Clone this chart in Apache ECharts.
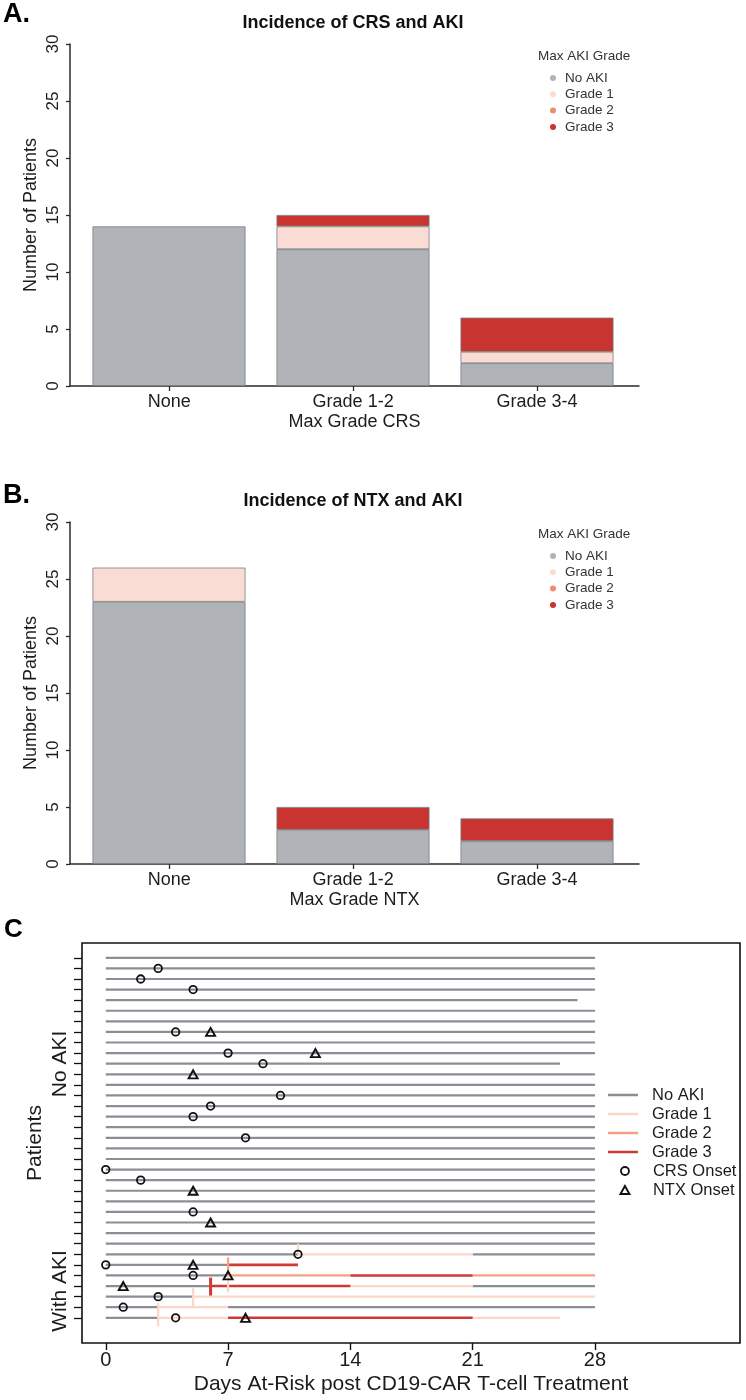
<!DOCTYPE html>
<html>
<head>
<meta charset="utf-8">
<title>CRS, NTX and AKI after CD19-CAR T-cell treatment</title>
<script src="https://cdn.jsdelivr.net/npm/echarts@6/dist/echarts.min.js"></script>
<style>
  html, body { margin: 0; padding: 0; background: #fff; }
  #chart { width: 746px; height: 1400px; }
</style>
</head>
<body>
<div id="chart"></div>
<script>
// ---- data ----
const grades = ['No AKI', 'Grade 1', 'Grade 2', 'Grade 3'];

const crsCategories = ['None', 'Grade 1-2', 'Grade 3-4'];
const crsNoAki = [14, 12, 2];
const crsGrade1 = [0, 2, 1];
const crsGrade2 = [0, 0, 0];
const crsGrade3 = [0, 1, 3];

const ntxCategories = ['None', 'Grade 1-2', 'Grade 3-4'];
const ntxNoAki = [23, 3, 2];
const ntxGrade1 = [3, 0, 0];
const ntxGrade2 = [0, 0, 0];
const ntxGrade3 = [0, 2, 2];

const dayTicks = [0, 7, 14, 21, 28];

// panel C: patients without AKI (rows 1-28, top down), last at-risk day
const noAkiEndDay = [28, 28, 28, 28, 27, 28, 28, 28, 28, 28, 26, 28, 28, 28,
                     28, 28, 28, 28, 28, 28, 28, 28, 28, 28, 28, 28, 28, 28];
// patients with AKI: [row, fromDay, toDay, grade]
const akiSegments = [
  [29, 0, 11, 0], [29, 11, 21, 1], [29, 21, 28, 0],
  [30, 0, 7, 0], [30, 7, 11, 3],
  [31, 0, 7, 0], [31, 7, 14, 2], [31, 14, 21, 3], [31, 21, 28, 2],
  [32, 0, 6, 0], [32, 6, 14, 3], [32, 14, 21, 1], [32, 21, 28, 0],
  [33, 0, 5, 0], [33, 5, 28, 1],
  [34, 0, 3, 0], [34, 3, 7, 1], [34, 7, 28, 0],
  [35, 0, 3, 0], [35, 3, 7, 1], [35, 7, 21, 3], [35, 21, 26, 1]
];
// vertical grade-change strokes: [day, fromRow, toRow, grade]
const akiSteps = [
  [11, 28, 29, 1],
  [7, 29.3, 31, 2],
  [7, 31, 32.6, 1],
  [6, 31.2, 32.9, 3],
  [5, 32.2, 34, 1],
  [3, 33.6, 35.8, 1]
];
// onset markers: [row, day]
const crsOnset = [[2, 3], [3, 2], [4, 5], [8, 4], [10, 7], [11, 9], [14, 10], [15, 6],
                  [16, 5], [18, 8], [21, 0], [22, 2], [25, 5],
                  [29, 11], [30, 0], [31, 5], [33, 3], [34, 1], [35, 4]];
const ntxOnset = [[8, 6], [10, 12], [12, 5], [23, 5], [26, 6],
                  [30, 5], [31, 7], [32, 1], [35, 8]];

// ---- styles ----
const FONT = '"Liberation Sans", Arial, Helvetica, sans-serif';
const INK = '#1c1c1c';
const AXIS = '#2a2a2a';
const barColors = ['#b0b3b8', '#f9ddd4', '#ef8d6f', '#c8342f'];
const lineColors = ['#8b8e95', '#fbd6c9', '#f2a184', '#d03a35'];
const lineWidths = [2.2, 2.2, 2.2, 2.6];

const chart = echarts.init(document.getElementById('chart'), null, { renderer: 'canvas' });

const rowCount = noAkiEndDay.length + 7;
const rowTicks = Array.from({ length: rowCount }, (_, i) => i + 1);
const noAkiRows = noAkiEndDay.map((end, i) => [i + 1, 0, end, 0]);
const allSegments = noAkiRows.concat(akiSegments);
const catIndex = crsCategories.map((_, i) => i);

// visible axes of a bar panel (value x axis so the line can run past the bars)
function barXAxis(gridIndex, cats, title) {
  return {
    gridIndex: gridIndex, type: 'value', min: -0.54, max: 2.555,
    axisLine: { show: true, onZero: false, lineStyle: { color: AXIS, width: 1.5 } },
    axisTick: { show: true, customValues: catIndex, length: 5, lineStyle: { color: AXIS, width: 1.3 } },
    axisLabel: {
      customValues: catIndex, formatter: v => cats[Math.round(v)],
      fontSize: 18, color: INK, margin: 7, fontFamily: FONT
    },
    splitLine: { show: false },
    name: title, nameLocation: 'middle', nameGap: 27, nameMoveOverlap: false,
    nameTextStyle: { fontSize: 18, color: INK, fontFamily: FONT }
  };
}

function barYAxis(gridIndex) {
  return {
    gridIndex: gridIndex, type: 'value', min: 0, max: 30, interval: 5,
    axisLine: { show: true, onZero: false, lineStyle: { color: AXIS, width: 1.5 } },
    axisTick: { show: true, length: 4, lineStyle: { color: AXIS, width: 1.3 } },
    axisLabel: { rotate: 90, fontSize: 17, color: INK, margin: 8, fontFamily: FONT },
    splitLine: { show: false },
    name: 'Number of Patients', nameLocation: 'middle', nameGap: 30, nameMoveOverlap: false,
    nameTextStyle: { fontSize: 18, color: INK, fontFamily: FONT }
  };
}

// hidden axes the stacked bars are drawn on
function hiddenCatAxis(gridIndex, cats) {
  return { gridIndex: gridIndex, type: 'category', data: cats, show: false };
}
function hiddenCountAxis(gridIndex) {
  return { gridIndex: gridIndex, type: 'value', min: 0, max: 30, show: false, splitLine: { show: false } };
}

function stackSeries(gridIndex, counts) {
  return counts.map((vals, g) => ({
    type: 'bar', name: grades[g], xAxisIndex: gridIndex, yAxisIndex: gridIndex,
    stack: 'panel' + gridIndex, barWidth: 153, silent: true,
    itemStyle: { color: barColors[g], borderColor: '#7b7e84', borderWidth: 0.8 },
    data: vals.map(v => (v > 0 ? v : '-'))
  }));
}

function barLegend(top) {
  return {
    orient: 'vertical', left: 550, top: top, padding: 0,
    itemWidth: 14, itemHeight: 6, itemGap: 0, icon: 'circle', selectedMode: false,
    textStyle: { fontSize: 13.5, color: '#333', fontFamily: FONT, lineHeight: 16.3 },
    data: grades.map((g, i) => ({ name: g, itemStyle: { color: barColors[i], borderWidth: 0 } }))
  };
}

function hSegment(grade) {
  return {
    type: 'custom', name: grades[grade], xAxisIndex: 4, yAxisIndex: 4, silent: true,
    encode: { x: [1, 2], y: 0 },
    data: allSegments.filter(s => s[3] === grade).map(s => [s[0], s[1], s[2]]),
    renderItem: function (params, api) {
      const a = api.coord([api.value(1), api.value(0)]);
      const b = api.coord([api.value(2), api.value(0)]);
      return {
        type: 'line',
        shape: { x1: a[0], y1: a[1], x2: b[0], y2: b[1] },
        style: { stroke: lineColors[grade], lineWidth: lineWidths[grade] }
      };
    }
  };
}

const stepSeries = {
  type: 'custom', name: 'grade change', xAxisIndex: 4, yAxisIndex: 4, silent: true,
  encode: { x: 0, y: [1, 2] },
  data: akiSteps,
  renderItem: function (params, api) {
    const grade = api.value(3);
    const a = api.coord([api.value(0), api.value(1)]);
    const b = api.coord([api.value(0), api.value(2)]);
    return {
      type: 'line',
      shape: { x1: a[0], y1: a[1], x2: b[0], y2: b[1] },
      style: { stroke: lineColors[grade], lineWidth: grade === 3 ? 3 : 2.2 }
    };
  }
};

const gridBase = { containLabel: false, outerBoundsMode: 'none' };

const option = {
  animation: false,
  textStyle: { fontFamily: FONT },
  grid: [
    Object.assign({ left: 70, top: 44, width: 569, height: 342 }, gridBase),
    Object.assign({ left: 77, top: 44, width: 552, height: 342 }, gridBase),
    Object.assign({ left: 70, top: 522, width: 569, height: 342 }, gridBase),
    Object.assign({ left: 77, top: 522, width: 552, height: 342 }, gridBase),
    Object.assign({ left: 82, top: 943, width: 658, height: 400, show: true,
      borderColor: '#111', borderWidth: 1.6, backgroundColor: 'transparent' }, gridBase)
  ],
  xAxis: [
    barXAxis(0, crsCategories, 'Max Grade CRS'),
    hiddenCatAxis(1, crsCategories),
    barXAxis(2, ntxCategories, 'Max Grade NTX'),
    hiddenCatAxis(3, ntxCategories),
    {
      gridIndex: 4, type: 'value', min: -1.36, max: 36.3,
      axisLine: { show: false, onZero: false },
      axisTick: { show: true, customValues: dayTicks, length: 7, lineStyle: { color: '#111', width: 1.4 } },
      axisLabel: { customValues: dayTicks, fontSize: 20, color: INK, margin: 7, fontFamily: FONT },
      splitLine: { show: false },
      name: 'Days At-Risk post CD19-CAR T-cell Treatment', nameLocation: 'middle', nameGap: 31,
      nameMoveOverlap: false,
      nameTextStyle: { fontSize: 21, color: INK, fontFamily: FONT }
    }
  ],
  yAxis: [
    barYAxis(0),
    hiddenCountAxis(1),
    barYAxis(2),
    hiddenCountAxis(3),
    {
      gridIndex: 4, type: 'value', inverse: true, min: -0.4, max: 37.38,
      axisLine: { show: false, onZero: false },
      axisTick: { show: true, customValues: rowTicks, length: 8, lineStyle: { color: '#111', width: 1.3 } },
      axisLabel: { show: false },
      splitLine: { show: false },
      name: 'Patients', nameLocation: 'middle', nameGap: 36, nameMoveOverlap: false,
      nameTextStyle: { fontSize: 21, color: INK, fontFamily: FONT }
    }
  ],
  legend: [
    barLegend(69.85),
    barLegend(547.85),
    {
      orient: 'vertical', left: 608, top: 1085.5, padding: 0,
      itemWidth: 30, itemHeight: 2.5, itemGap: 0, icon: 'rect', selectedMode: false,
      textStyle: { fontSize: 16.5, color: INK, fontFamily: FONT, lineHeight: 19, padding: [0, 0, 0, 9] },
      data: grades.map((g, i) => ({ name: g, itemStyle: { color: lineColors[i], borderWidth: 0 } }))
    },
    {
      orient: 'vertical', left: 619.5, top: 1161.5, padding: 0,
      itemWidth: 9, itemHeight: 8, itemGap: 0, selectedMode: false,
      textStyle: { fontSize: 16.5, color: INK, fontFamily: FONT, lineHeight: 19, padding: [0, 0, 0, 18.5] },
      data: [
        { name: 'CRS Onset', icon: 'circle', itemStyle: { color: 'rgba(0,0,0,0)', borderColor: '#111', borderWidth: 1.8 } },
        { name: 'NTX Onset', icon: 'triangle', itemStyle: { color: 'rgba(0,0,0,0)', borderColor: '#111', borderWidth: 1.9 } }
      ]
    }
  ],
  graphic: [
    { type: 'text', x: 3, y: 15, silent: true,
      style: { text: 'A.', fontSize: 27, fontWeight: 'bold', fill: '#000', fontFamily: FONT, align: 'left', verticalAlign: 'middle' } },
    { type: 'text', x: 353, y: 23, silent: true,
      style: { text: 'Incidence of CRS and AKI', fontSize: 18, fontWeight: 'bold', fill: '#111', fontFamily: FONT, align: 'center', verticalAlign: 'middle' } },
    { type: 'text', x: 538, y: 56, silent: true,
      style: { text: 'Max AKI Grade', fontSize: 13.5, fill: '#333', fontFamily: FONT, align: 'left', verticalAlign: 'middle' } },
    { type: 'text', x: 3, y: 496, silent: true,
      style: { text: 'B.', fontSize: 27, fontWeight: 'bold', fill: '#000', fontFamily: FONT, align: 'left', verticalAlign: 'middle' } },
    { type: 'text', x: 353, y: 501, silent: true,
      style: { text: 'Incidence of NTX and AKI', fontSize: 18, fontWeight: 'bold', fill: '#111', fontFamily: FONT, align: 'center', verticalAlign: 'middle' } },
    { type: 'text', x: 538, y: 534, silent: true,
      style: { text: 'Max AKI Grade', fontSize: 13.5, fill: '#333', fontFamily: FONT, align: 'left', verticalAlign: 'middle' } },
    { type: 'text', x: 4, y: 930, silent: true,
      style: { text: 'C', fontSize: 26, fontWeight: 'bold', fill: '#000', fontFamily: FONT, align: 'left', verticalAlign: 'middle' } },
    { type: 'text', x: 60, y: 1064, rotation: Math.PI / 2, silent: true,
      style: { text: 'No AKI', fontSize: 21, fill: INK, fontFamily: FONT, align: 'center', verticalAlign: 'middle' } },
    { type: 'text', x: 60, y: 1291, rotation: Math.PI / 2, silent: true,
      style: { text: 'With AKI', fontSize: 21, fill: INK, fontFamily: FONT, align: 'center', verticalAlign: 'middle' } }
  ],
  series: [].concat(
    stackSeries(1, [crsNoAki, crsGrade1, crsGrade2, crsGrade3]),
    stackSeries(3, [ntxNoAki, ntxGrade1, ntxGrade2, ntxGrade3]),
    [hSegment(0), hSegment(1), hSegment(2), hSegment(3), stepSeries],
    [
      {
        type: 'scatter', name: 'CRS Onset', xAxisIndex: 4, yAxisIndex: 4, silent: true,
        symbol: 'circle', symbolSize: 7.5,
        itemStyle: { color: 'rgba(0,0,0,0)', borderColor: '#111', borderWidth: 1.8, opacity: 1 },
        data: crsOnset.map(p => [p[1], p[0]])
      },
      {
        type: 'scatter', name: 'NTX Onset', xAxisIndex: 4, yAxisIndex: 4, silent: true,
        symbol: 'triangle', symbolSize: [9, 8],
        itemStyle: { color: 'rgba(0,0,0,0)', borderColor: '#111', borderWidth: 1.9, opacity: 1 },
        data: ntxOnset.map(p => [p[1], p[0]])
      }
    ]
  )
};

chart.setOption(option);
</script>
</body>
</html>
